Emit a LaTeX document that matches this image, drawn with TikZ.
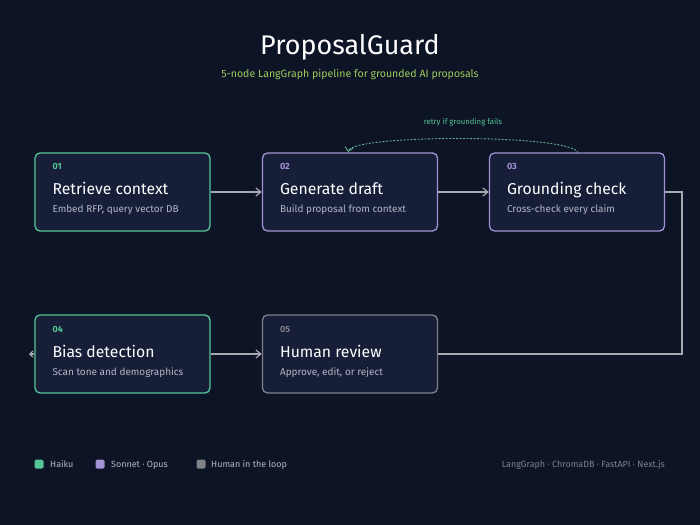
\documentclass[tikz,border=0pt]{standalone}
\usepackage{fontspec}
\setmainfont{Fira Sans}
\usetikzlibrary{arrows.meta}
\definecolor{bg}{HTML}{0D1426}
\definecolor{nodefill}{HTML}{161E38}
\definecolor{cgreen}{HTML}{55C596}
\definecolor{cpurple}{HTML}{A392D6}
\definecolor{cgray}{HTML}{808088}
\definecolor{subt}{HTML}{B4B8C4}
\definecolor{edge}{HTML}{A8A8B0}
\definecolor{lime}{HTML}{9CCB5A}
\begin{document}
\begin{tikzpicture}[x=1bp,y=-1bp,
  box/.style={draw=#1,line width=1.3bp,fill=nodefill,rounded corners=5bp,minimum width=175bp,minimum height=78bp,inner sep=0},
  num/.style={anchor=base west,inner xsep=0,font=\fontsize{9}{10}\selectfont\bfseries},
  ttl/.style={anchor=base west,inner xsep=0,text=white,font=\fontsize{15.8}{18}\selectfont},
  sub/.style={anchor=base west,inner xsep=0,text=subt,font=\fontsize{10}{12}\selectfont},
  conn/.style={draw=edge,line width=1.2bp},
  arr/.style={conn,-{Straight Barb[length=5bp,width=8bp]}},
  leg/.style={anchor=base west,inner xsep=0,text=subt,font=\fontsize{9}{10}\selectfont}]
\fill[bg] (0,0) rectangle (700,525);
\useasboundingbox (0,0) rectangle (700,525);
\node[text=white,font=\fontsize{27}{30}\selectfont] (title) at (350,47) {ProposalGuard};
\node[text=lime,font=\fontsize{10.6}{12}\selectfont] (subtitle) at (350,75) {5-node LangGraph pipeline for grounded AI proposals};
\newcommand{\stage}[7]{%
  \node[box=#4] (#1) at (#2,#3) {};
  \node[num,text=#4] (#1n) at ([shift={(18,-22)}]#1.west) {#5};
  \node[ttl] (#1t) at ([shift={(18,3)}]#1.west) {#6};
  \node[sub] (#1s) at ([shift={(18,21)}]#1.west) {#7};}
\stage{a}{122.5}{192}{cgreen}{01}{Retrieve context}{Embed RFP, query vector DB}
\stage{b}{350}{192}{cpurple}{02}{Generate draft}{Build proposal from context}
\stage{c}{577}{192}{cpurple}{03}{Grounding check}{Cross-check every claim}
\stage{d}{122.5}{354}{cgreen}{04}{Bias detection}{Scan tone and demographics}
\stage{e}{350}{354}{cgray}{05}{Human review}{Approve, edit, or reject}
\draw[arr] (a.east) -- (b.west);
\draw[arr] (b.east) -- (c.west);
\draw[arr] (d.east) -- (e.west);
\coordinate (c1) at (682,192);
\coordinate (c2) at (682,354);
\draw[conn] (c.east) -- (c1) -- (c2) -- (e.east);
\coordinate (dl) at (29,354);
\draw[conn,-{Straight Barb[length=3bp,width=6bp]}] (d.west) -- (dl);
\coordinate (ra) at (578,153);
\coordinate (rb) at (348,152);
\draw[cgreen!70!gray,line width=0.9bp,dash pattern=on 2bp off 1.5bp,-{Straight Barb[length=4bp,width=8bp]}] (ra) .. controls (574,134) and (352,134) .. (rb);
\node[text=cgreen,font=\fontsize{7.8}{9}\selectfont] (rl) at (463,122) {retry if grounding fails};
\node[fill=cgreen,rounded corners=1.5bp,minimum size=9bp,inner sep=0] (l1) at (39,464) {};
\node[leg] (l1t) at (50,467) {Haiku};
\node[fill=cpurple,rounded corners=1.5bp,minimum size=9bp,inner sep=0] (l2) at (100,464) {};
\node[leg] (l2t) at (111,467) {Sonnet · Opus};
\node[fill=cgray,rounded corners=1.5bp,minimum size=9bp,inner sep=0] (l3) at (201,464) {};
\node[leg] (l3t) at (211,467) {Human in the loop};
\node[anchor=base east,inner xsep=0,text=cgray,font=\fontsize{9}{10}\selectfont] (stack) at (665,467) {LangGraph · ChromaDB · FastAPI · Next.js};
\end{tikzpicture}
\end{document}
